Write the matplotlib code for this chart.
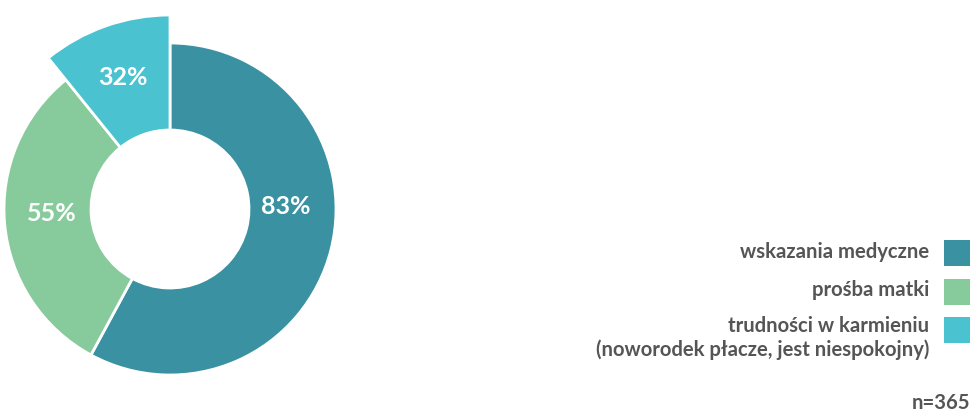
import matplotlib.pyplot as plt
from matplotlib.patches import Rectangle

# data
categories = ["wskazania medyczne", "prośba matki",
              "trudności w karmieniu\n(noworodek płacze, jest niespokojny)"]
percent = [83, 55, 32]
# share of the ring each slice takes in the picture
shares = [57.9, 31.3, 10.8]
colors = ["#3a91a2", "#87cb9c", "#4bc2d0"]
n_label = "n=365"

plt.rcParams['font.family'] = ['Lato', 'DejaVu Sans']

W, H = 974, 412
fig = plt.figure(figsize=(W / 100, H / 100), dpi=100)
ax = fig.add_axes([0, 0, 1, 1])

cx, cy = 170, H - 209
r_out, r_in = 166, 79
wedges, _ = ax.pie(shares, colors=colors, startangle=90, counterclock=False,
                   radius=r_out, center=(cx, cy), frame=True,
                   wedgeprops=dict(width=r_out - r_in, edgecolor="white", linewidth=2))
# highlighted slice sticks out further
wedges[2].set_radius(194)
wedges[2].set_width(194 - r_in)

label_pos = [(286, 206), (52, 213), (123, 77)]
for (x, y), p in zip(label_pos, percent):
    ax.text(x, H - y, f"{p}%", color="white", fontsize=18, fontweight="bold",
            ha="center", va="center")

# legend
text_col = "#555555"
sq_y = [240, 279, 317]
txt_y = [252, 290, 338]
for c, lab, sy, ty in zip(colors, categories, sq_y, txt_y):
    ax.add_patch(Rectangle((944, H - sy - 26), 26, 26, color=c, lw=0))
    ax.text(929, H - ty, lab, color=text_col, fontsize=14.6, fontweight="bold",
            ha="right", va="center", linespacing=1.15)

ax.text(970, H - 403, n_label, color=text_col, fontsize=14.6, fontweight="bold",
        ha="right", va="center")

ax.set_xlim(0, W)
ax.set_ylim(0, H)
ax.set_aspect("auto")
ax.axis("off")

plt.savefig("out.png", dpi=100)
